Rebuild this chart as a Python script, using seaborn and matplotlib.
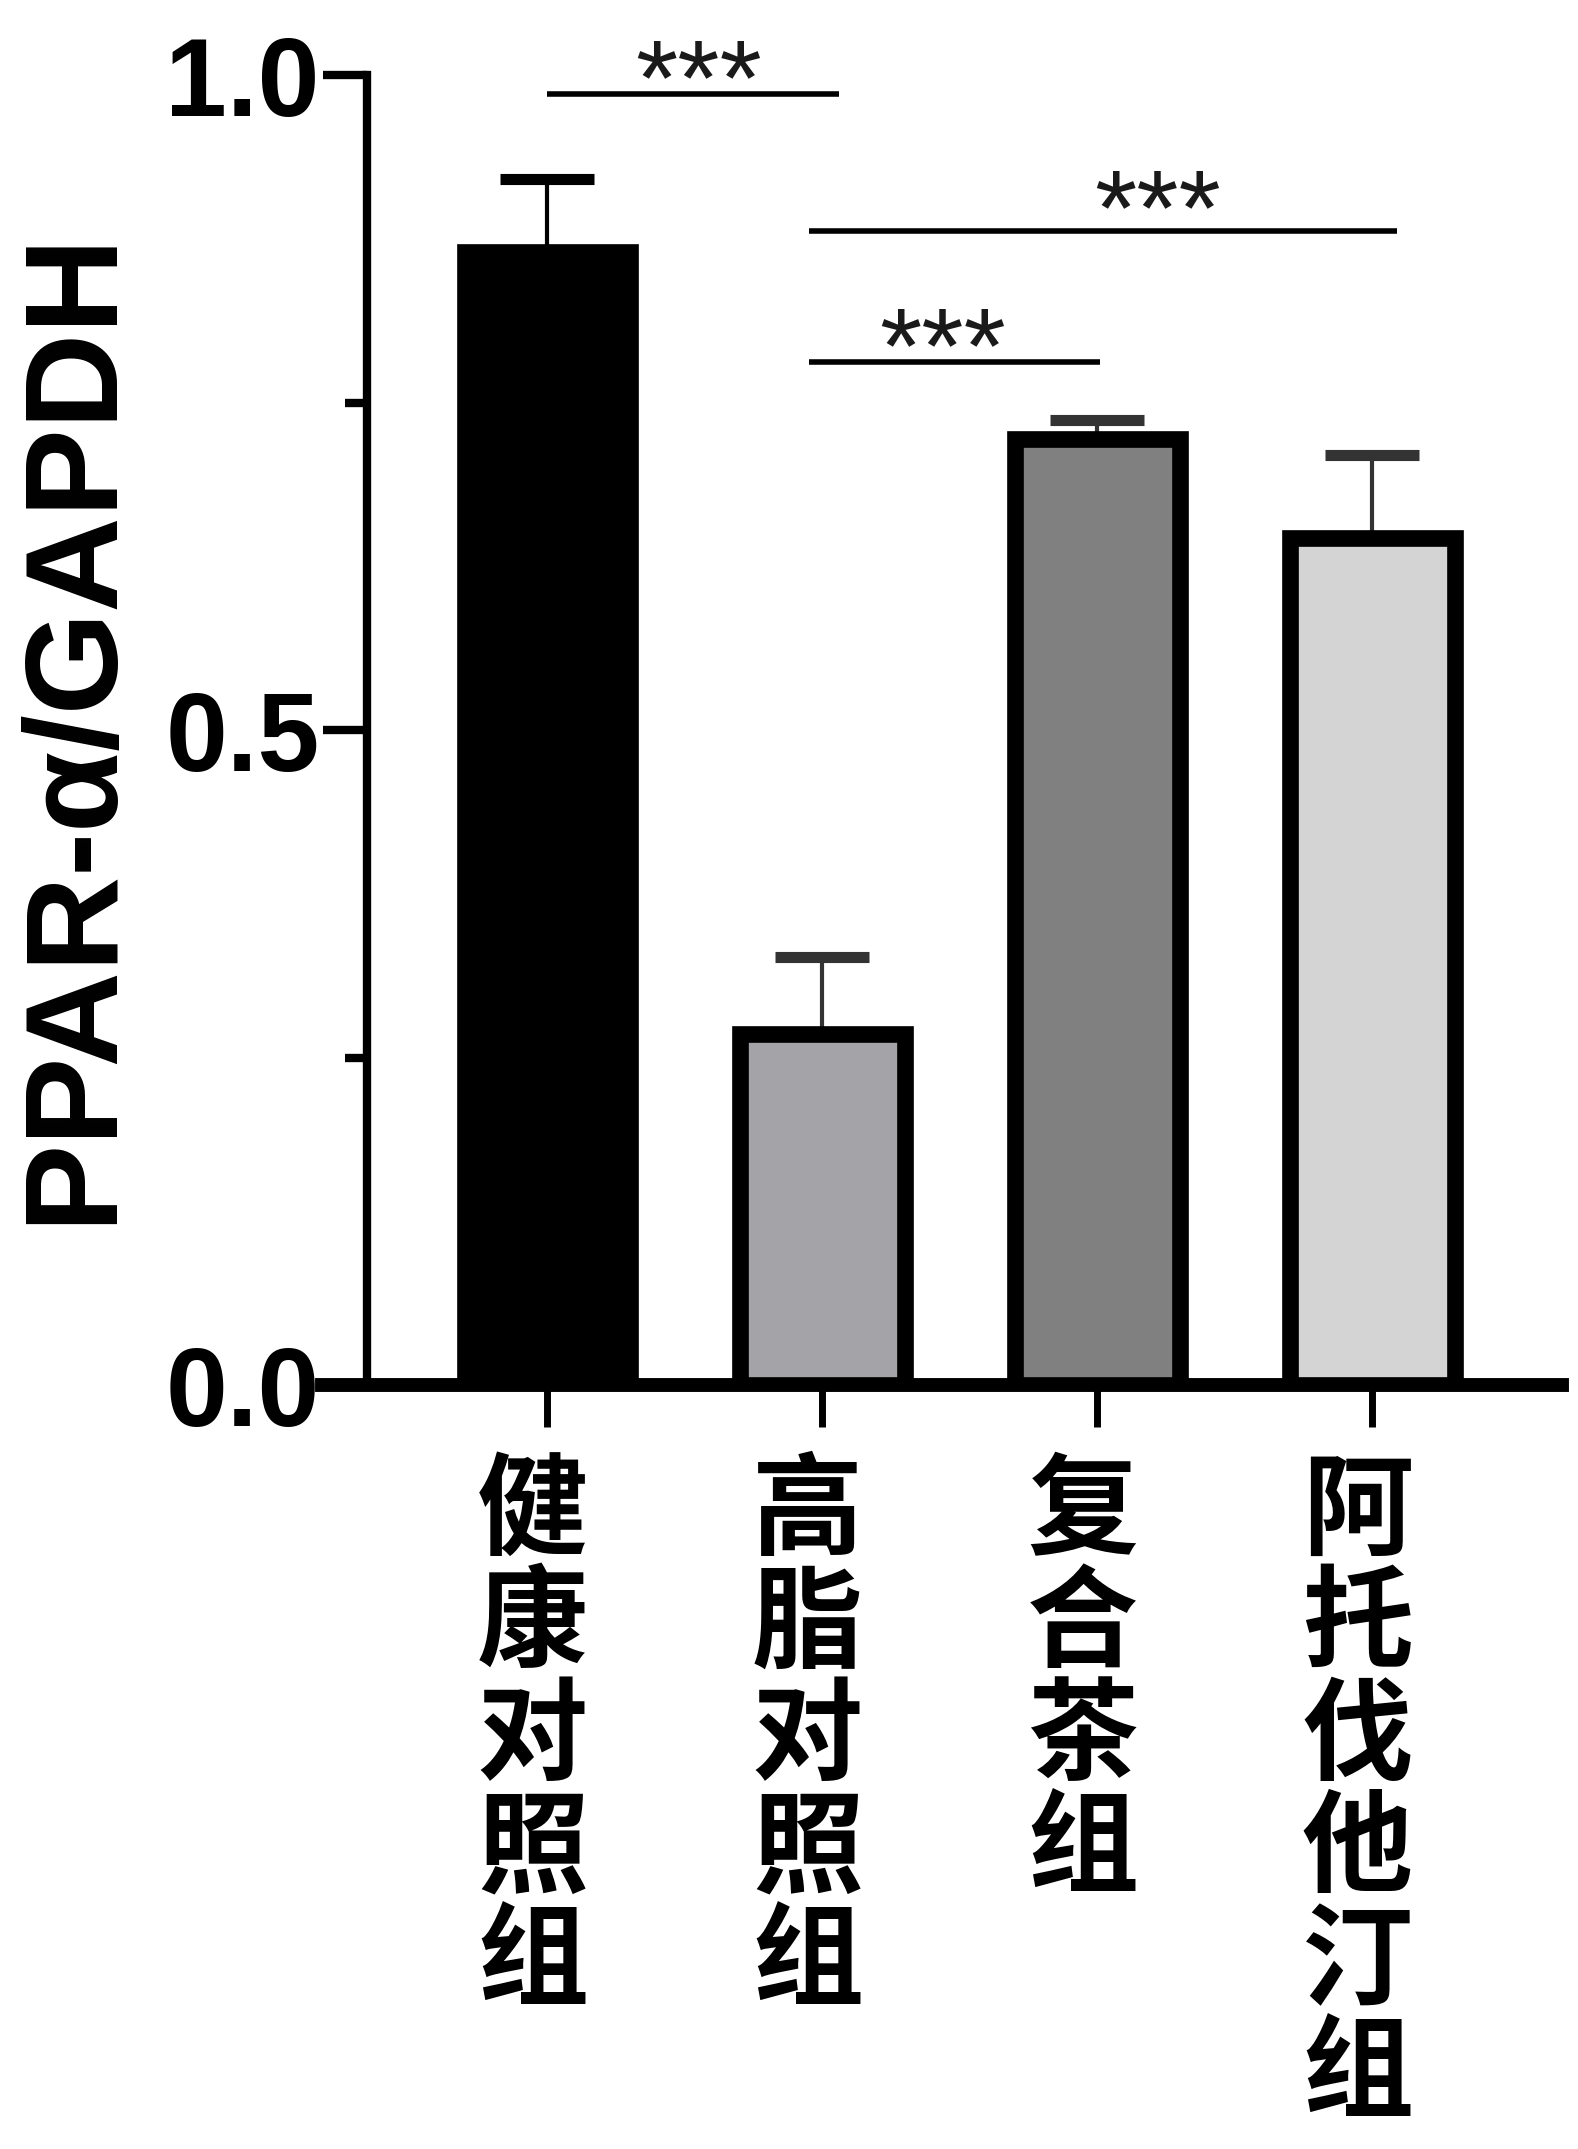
import matplotlib
matplotlib.use('Agg')
import matplotlib.pyplot as plt
from matplotlib.transforms import ScaledTranslation
import numpy as np
import pandas as pd
import seaborn as sns

# values
groups = ['健康对照组', '高脂对照组', '复合茶组', '阿托伐他汀组']
ratio = [0.865, 0.268, 0.722, 0.647]
err_up = [0.056, 0.059, 0.015, 0.063]
bar_colors = ['#000000', '#a4a3a8', '#808080', '#d4d4d4']
cap_colors = ['#000000', '#333333', '#333333', '#333333']

# significance brackets
sig_x0 = [0.0, 0.95, 0.95]
sig_x1 = [1.06, 3.09, 2.01]
sig_y = [0.986, 0.881, 0.781]
star_x = [0.548, 2.22, 1.435]
star_y = [0.970, 0.871, 0.766]
sig_txt = ['***', '***', '***']

sns.set_style('ticks')
plt.rcParams['font.family'] = ['Liberation Sans', 'Noto Sans CJK SC', 'DejaVu Sans']
plt.rcParams.update({'text.color': 'black', 'axes.labelcolor': 'black',
                     'xtick.color': 'black', 'ytick.color': 'black',
                     'axes.edgecolor': 'black'})

df = pd.DataFrame({'group': groups, 'ratio': ratio})

fig = plt.figure(figsize=(15.78, 21.49), dpi=100)
ax = fig.add_axes([0.204, 0.3555, 0.786, 0.6095])

sns.barplot(data=df, x='group', y='ratio', hue='group', palette=bar_colors,
            width=0.6, edgecolor='black', linewidth=12, saturation=1,
            legend=False, ax=ax, zorder=3)

# upper error bars only
for i in range(len(groups)):
    ax.errorbar(i, ratio[i], yerr=[[0], [err_up[i]]], fmt='none',
                ecolor=cap_colors[i], elinewidth=3, capsize=34, capthick=8, zorder=2)

ax.set_xlim(-0.82, 3.69)
ax.set_ylim(0, 1.0)
sns.despine(ax=ax)
ax.spines['left'].set_position(('data', -0.657))
ax.spines['left'].set_bounds(0, 1.0)
ax.spines['left'].set_linewidth(6)
ax.spines['bottom'].set_linewidth(10)

ax.set_yticks([0, 0.5, 1.0])
ax.set_yticks([0.25, 0.75], minor=True)
ax.set_yticklabels(['0.0', '0.5', '1.0'], fontsize=80, fontweight='bold')
ax.tick_params(axis='y', which='major', length=32, width=6, pad=2)
ax.tick_params(axis='y', which='minor', length=16, width=6)

ax.set_xticks(range(len(groups)))
ax.set_xticklabels(['\n'.join(g) for g in groups], fontsize=80, fontweight='bold',
                   family=['Noto Sans CJK SC'], linespacing=1.0, va='top')
ax.tick_params(axis='x', length=30, width=5, pad=22)
shift = ScaledTranslation(-0.15, 0, fig.dpi_scale_trans)
for lab in ax.get_xticklabels():
    lab.set_transform(lab.get_transform() + shift)
ax.set_xlabel('')
ax.set_ylabel('')

for x0, x1, y in zip(sig_x0, sig_x1, sig_y):
    ax.plot([x0, x1], [y, y], color='black', lw=4, clip_on=False, solid_capstyle='butt')
for x, y, t in zip(star_x, star_y, sig_txt):
    ax.text(x, y, t, ha='center', va='baseline', fontsize=78, color='#1a1a1a', clip_on=False)

fig.text(0.0475, 0.662, 'PPAR-α/GAPDH', rotation=90, ha='center', va='center',
         fontsize=95, fontweight='bold')

fig.savefig('out.png', dpi=100)
